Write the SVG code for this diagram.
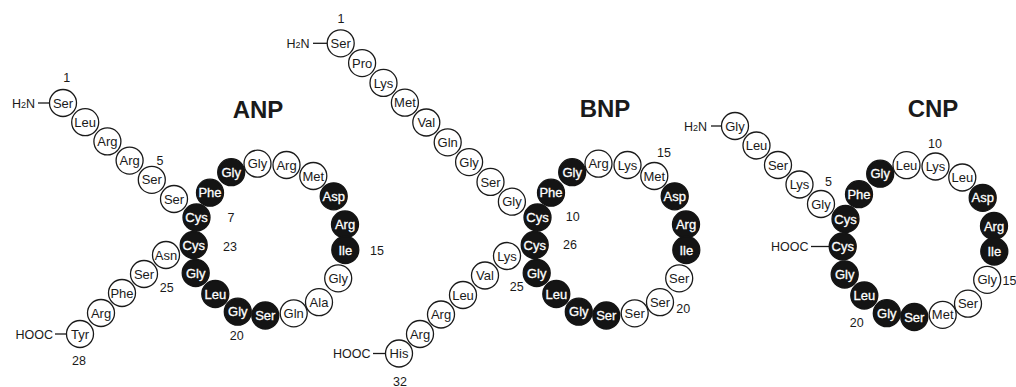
<svg xmlns="http://www.w3.org/2000/svg" width="1016" height="387" viewBox="0 0 1016 387">
<style>
text{font-family:"Liberation Sans",Arial,Helvetica,sans-serif;text-anchor:middle}
.w circle{fill:#fff;stroke:#1a1a1a;stroke-width:1.3}
.b circle{fill:#141414;stroke:#141414;stroke-width:1.3}
.w text{fill:#1a1a1a;font-size:13px}
.b text{fill:#fff;font-size:13px;stroke:#fff;stroke-width:0.3}
.num{fill:#1a1a1a;font-size:12.5px}
.end{fill:#1a1a1a;font-size:12.5px;text-anchor:end}
.title{fill:#1a1a1a;font-size:24px;font-weight:bold}
.conn line{stroke:#1a1a1a;stroke-width:1.3}
</style>
<g id="titles">
<text class="title" x="258" y="118">ANP</text>
<text class="title" x="605" y="117">BNP</text>
<text class="title" x="933" y="117">CNP</text>
</g>
<g id="connectors" class="conn">
<line x1="38" y1="103" x2="49.5" y2="103"/>
<line x1="55" y1="334" x2="66.5" y2="334"/>
<line x1="313" y1="43.3" x2="327.2" y2="43.3"/>
<line x1="373" y1="353.5" x2="385.5" y2="353.5"/>
<line x1="711" y1="126" x2="721.5" y2="126"/>
<line x1="811" y1="246.5" x2="829.2" y2="246.5"/>
</g>
<g id="termini">
<text class="end" x="35" y="107.5">H<tspan font-size="9">2</tspan>N</text>
<text class="end" x="53" y="338.5">HOOC</text>
<text class="end" x="309.5" y="47.8">H<tspan font-size="9">2</tspan>N</text>
<text class="end" x="370.5" y="358">HOOC</text>
<text class="end" x="707" y="130.5">H<tspan font-size="9">2</tspan>N</text>
<text class="end" x="808.5" y="251">HOOC</text>
</g>
<g id="numbers" class="num">
<text class="num" x="66.7" y="81.5">1</text>
<text class="num" x="160" y="164.5">5</text>
<text class="num" x="231" y="221.5">7</text>
<text class="num" x="230" y="250.5">23</text>
<text class="num" x="166.7" y="291.5">25</text>
<text class="num" x="79" y="364.5">28</text>
<text class="num" x="377" y="254.5">15</text>
<text class="num" x="236.7" y="339.5">20</text>
<text class="num" x="341" y="22.5">1</text>
<text class="num" x="572.7" y="221">10</text>
<text class="num" x="570" y="248.5">26</text>
<text class="num" x="664" y="157">15</text>
<text class="num" x="683.3" y="312.8">20</text>
<text class="num" x="516.7" y="291">25</text>
<text class="num" x="400" y="386">32</text>
<text class="num" x="828.5" y="186">5</text>
<text class="num" x="935" y="147.8">10</text>
<text class="num" x="1009.5" y="284.5">15</text>
<text class="num" x="856.7" y="327">20</text>
</g>
<g id="ANP">
<g id="anp-1" class="w" transform="translate(63,103)"><circle r="13.5"/><text y="4.6">Ser</text></g>
<g id="anp-2" class="w" transform="translate(85.2,122.2)"><circle r="13.5"/><text y="4.6">Leu</text></g>
<g id="anp-3" class="w" transform="translate(107.4,141.4)"><circle r="13.5"/><text y="4.6">Arg</text></g>
<g id="anp-4" class="w" transform="translate(129.6,160.6)"><circle r="13.5"/><text y="4.6">Arg</text></g>
<g id="anp-5" class="w" transform="translate(151.8,179.8)"><circle r="13.5"/><text y="4.6">Ser</text></g>
<g id="anp-6" class="w" transform="translate(174,199)"><circle r="13.5"/><text y="4.6">Ser</text></g>
<g id="anp-7" class="b" transform="translate(196.5,217.5)"><circle r="13.5"/><text y="4.6">Cys</text></g>
<g id="anp-8" class="b" transform="translate(210,192.7)"><circle r="13.5"/><text y="4.6">Phe</text></g>
<g id="anp-9" class="b" transform="translate(231.2,172.2)"><circle r="13.5"/><text y="4.6">Gly</text></g>
<g id="anp-10" class="w" transform="translate(257.5,163.7)"><circle r="13.5"/><text y="4.6">Gly</text></g>
<g id="anp-11" class="w" transform="translate(286.5,165)"><circle r="13.5"/><text y="4.6">Arg</text></g>
<g id="anp-12" class="w" transform="translate(313.3,176)"><circle r="13.5"/><text y="4.6">Met</text></g>
<g id="anp-13" class="b" transform="translate(333.7,196.3)"><circle r="13.5"/><text y="4.6">Asp</text></g>
<g id="anp-14" class="b" transform="translate(345,224.5)"><circle r="13.5"/><text y="4.6">Arg</text></g>
<g id="anp-15" class="b" transform="translate(345.3,250)"><circle r="13.5"/><text y="4.6">Ile</text></g>
<g id="anp-16" class="w" transform="translate(338.2,278.3)"><circle r="13.5"/><text y="4.6">Gly</text></g>
<g id="anp-17" class="w" transform="translate(319,302.2)"><circle r="13.5"/><text y="4.6">Ala</text></g>
<g id="anp-18" class="w" transform="translate(293.7,313.3)"><circle r="13.5"/><text y="4.6">Gln</text></g>
<g id="anp-19" class="b" transform="translate(265.3,315.5)"><circle r="13.5"/><text y="4.6">Ser</text></g>
<g id="anp-20" class="b" transform="translate(237.8,311.7)"><circle r="13.5"/><text y="4.6">Gly</text></g>
<g id="anp-21" class="b" transform="translate(215.3,294)"><circle r="13.5"/><text y="4.6">Leu</text></g>
<g id="anp-22" class="b" transform="translate(195.7,273)"><circle r="13.5"/><text y="4.6">Gly</text></g>
<g id="anp-23" class="b" transform="translate(193.7,245)"><circle r="13.5"/><text y="4.6">Cys</text></g>
<g id="anp-24" class="w" transform="translate(166,255)"><circle r="13.5"/><text y="4.6">Asn</text></g>
<g id="anp-25" class="w" transform="translate(144,274)"><circle r="13.5"/><text y="4.6">Ser</text></g>
<g id="anp-26" class="w" transform="translate(122,293)"><circle r="13.5"/><text y="4.6">Phe</text></g>
<g id="anp-27" class="w" transform="translate(101,313)"><circle r="13.5"/><text y="4.6">Arg</text></g>
<g id="anp-28" class="w" transform="translate(80,334)"><circle r="13.5"/><text y="4.6">Tyr</text></g>
</g>
<g id="BNP">
<g id="bnp-1" class="w" transform="translate(340.7,43.3)"><circle r="13.5"/><text y="4.6">Ser</text></g>
<g id="bnp-2" class="w" transform="translate(362.1,63.1)"><circle r="13.5"/><text y="4.6">Pro</text></g>
<g id="bnp-3" class="w" transform="translate(383.5,82.9)"><circle r="13.5"/><text y="4.6">Lys</text></g>
<g id="bnp-4" class="w" transform="translate(404.9,102.7)"><circle r="13.5"/><text y="4.6">Met</text></g>
<g id="bnp-5" class="w" transform="translate(426.3,122.5)"><circle r="13.5"/><text y="4.6">Val</text></g>
<g id="bnp-6" class="w" transform="translate(447.7,142.3)"><circle r="13.5"/><text y="4.6">Gln</text></g>
<g id="bnp-7" class="w" transform="translate(469.1,162.1)"><circle r="13.5"/><text y="4.6">Gly</text></g>
<g id="bnp-8" class="w" transform="translate(490.5,181.9)"><circle r="13.5"/><text y="4.6">Ser</text></g>
<g id="bnp-9" class="w" transform="translate(511.9,201.7)"><circle r="13.5"/><text y="4.6">Gly</text></g>
<g id="bnp-10" class="b" transform="translate(537.5,217.5)"><circle r="13.5"/><text y="4.6">Cys</text></g>
<g id="bnp-11" class="b" transform="translate(551,192.7)"><circle r="13.5"/><text y="4.6">Phe</text></g>
<g id="bnp-12" class="b" transform="translate(572.2,172.2)"><circle r="13.5"/><text y="4.6">Gly</text></g>
<g id="bnp-13" class="w" transform="translate(598.5,163.7)"><circle r="13.5"/><text y="4.6">Arg</text></g>
<g id="bnp-14" class="w" transform="translate(627.5,165)"><circle r="13.5"/><text y="4.6">Lys</text></g>
<g id="bnp-15" class="w" transform="translate(654.3,176)"><circle r="13.5"/><text y="4.6">Met</text></g>
<g id="bnp-16" class="b" transform="translate(674.7,196.3)"><circle r="13.5"/><text y="4.6">Asp</text></g>
<g id="bnp-17" class="b" transform="translate(686,224.5)"><circle r="13.5"/><text y="4.6">Arg</text></g>
<g id="bnp-18" class="b" transform="translate(686.3,250)"><circle r="13.5"/><text y="4.6">Ile</text></g>
<g id="bnp-19" class="w" transform="translate(679.2,278.3)"><circle r="13.5"/><text y="4.6">Ser</text></g>
<g id="bnp-20" class="w" transform="translate(660,302.2)"><circle r="13.5"/><text y="4.6">Ser</text></g>
<g id="bnp-21" class="w" transform="translate(634.7,313.3)"><circle r="13.5"/><text y="4.6">Ser</text></g>
<g id="bnp-22" class="b" transform="translate(606.3,315.5)"><circle r="13.5"/><text y="4.6">Ser</text></g>
<g id="bnp-23" class="b" transform="translate(578.8,311.7)"><circle r="13.5"/><text y="4.6">Gly</text></g>
<g id="bnp-24" class="b" transform="translate(556.3,294)"><circle r="13.5"/><text y="4.6">Leu</text></g>
<g id="bnp-25" class="b" transform="translate(536.7,273)"><circle r="13.5"/><text y="4.6">Gly</text></g>
<g id="bnp-26" class="b" transform="translate(534.7,245)"><circle r="13.5"/><text y="4.6">Cys</text></g>
<g id="bnp-27" class="w" transform="translate(507,256)"><circle r="13.5"/><text y="4.6">Lys</text></g>
<g id="bnp-28" class="w" transform="translate(485,275.5)"><circle r="13.5"/><text y="4.6">Val</text></g>
<g id="bnp-29" class="w" transform="translate(463,295)"><circle r="13.5"/><text y="4.6">Leu</text></g>
<g id="bnp-30" class="w" transform="translate(441,314.5)"><circle r="13.5"/><text y="4.6">Arg</text></g>
<g id="bnp-31" class="w" transform="translate(420,334)"><circle r="13.5"/><text y="4.6">Arg</text></g>
<g id="bnp-32" class="w" transform="translate(399,353.5)"><circle r="13.5"/><text y="4.6">His</text></g>
</g>
<g id="CNP">
<g id="cnp-1" class="w" transform="translate(735,126)"><circle r="13.5"/><text y="4.6">Gly</text></g>
<g id="cnp-2" class="w" transform="translate(756.5,145.5)"><circle r="13.5"/><text y="4.6">Leu</text></g>
<g id="cnp-3" class="w" transform="translate(778,165)"><circle r="13.5"/><text y="4.6">Ser</text></g>
<g id="cnp-4" class="w" transform="translate(799.5,184.5)"><circle r="13.5"/><text y="4.6">Lys</text></g>
<g id="cnp-5" class="w" transform="translate(821,204)"><circle r="13.5"/><text y="4.6">Gly</text></g>
<g id="cnp-6" class="b" transform="translate(845.5,219)"><circle r="13.5"/><text y="4.6">Cys</text></g>
<g id="cnp-7" class="b" transform="translate(859,194.2)"><circle r="13.5"/><text y="4.6">Phe</text></g>
<g id="cnp-8" class="b" transform="translate(880.2,173.7)"><circle r="13.5"/><text y="4.6">Gly</text></g>
<g id="cnp-9" class="w" transform="translate(906.5,165.2)"><circle r="13.5"/><text y="4.6">Leu</text></g>
<g id="cnp-10" class="w" transform="translate(935.5,166.5)"><circle r="13.5"/><text y="4.6">Lys</text></g>
<g id="cnp-11" class="w" transform="translate(962.3,177.5)"><circle r="13.5"/><text y="4.6">Leu</text></g>
<g id="cnp-12" class="b" transform="translate(982.7,197.8)"><circle r="13.5"/><text y="4.6">Asp</text></g>
<g id="cnp-13" class="b" transform="translate(994,226)"><circle r="13.5"/><text y="4.6">Arg</text></g>
<g id="cnp-14" class="b" transform="translate(994.3,251.5)"><circle r="13.5"/><text y="4.6">Ile</text></g>
<g id="cnp-15" class="w" transform="translate(987.2,279.8)"><circle r="13.5"/><text y="4.6">Gly</text></g>
<g id="cnp-16" class="w" transform="translate(968,303.7)"><circle r="13.5"/><text y="4.6">Ser</text></g>
<g id="cnp-17" class="w" transform="translate(942.7,314.8)"><circle r="13.5"/><text y="4.6">Met</text></g>
<g id="cnp-18" class="b" transform="translate(914.3,317)"><circle r="13.5"/><text y="4.6">Ser</text></g>
<g id="cnp-19" class="b" transform="translate(886.8,313.2)"><circle r="13.5"/><text y="4.6">Gly</text></g>
<g id="cnp-20" class="b" transform="translate(864.3,295.5)"><circle r="13.5"/><text y="4.6">Leu</text></g>
<g id="cnp-21" class="b" transform="translate(844.7,274.5)"><circle r="13.5"/><text y="4.6">Gly</text></g>
<g id="cnp-22" class="b" transform="translate(842.7,246.5)"><circle r="13.5"/><text y="4.6">Cys</text></g>
</g>
</svg>
